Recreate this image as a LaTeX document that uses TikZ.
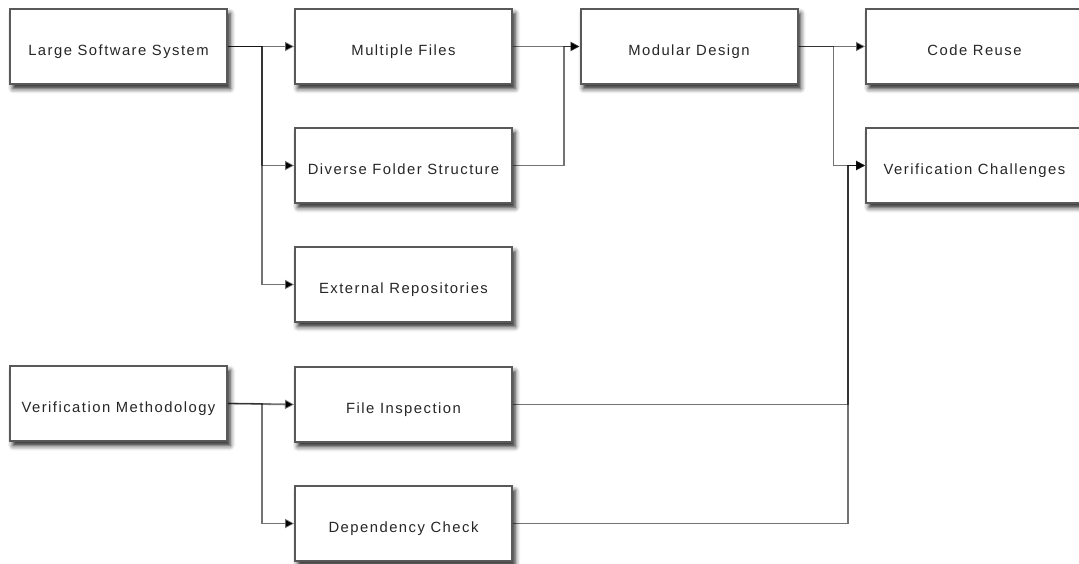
\documentclass[tikz,border=0pt]{standalone}
\usepackage{fontspec}
\newfontfamily\boxfont[LetterSpace=10]{Liberation Sans}
\usetikzlibrary{arrows.meta,shadows.blur}
\tikzset{
  box/.style={draw=black!65, line width=2pt, fill=white, minimum width=217pt, minimum height=75pt,
    inner sep=0pt, text height=18pt, text depth=0pt, font=\boxfont\fontsize{14.8pt}{17pt}\selectfont, text=black!85,
    blur shadow={shadow xshift=3pt, shadow yshift=-4.5pt, shadow blur radius=5pt, shadow opacity=90}},
  conn/.style={draw=black, draw opacity=0.55, line width=1.8pt},
  arr/.style={conn, -{Triangle[length=9pt,width=9pt]}},
}
\begin{document}
\begin{tikzpicture}[x=1pt,y=-1pt]
\useasboundingbox (0,0) rectangle (1079,564);
\node[box] (lss) at (118.5,46.5) {Large Software System};
\node[box] (mf)  at (403.5,46.5) {Multiple Files};
\node[box] (md)  at (689,46.5) {Modular Design};
\node[box] (cr)  at (974.5,46.5) {Code Reuse};
\node[box] (dfs) at (403.5,165.5) {Diverse Folder Structure};
\node[box] (vc)  at (974.5,165.5) {Verification Challenges};
\node[box] (er)  at (403.5,284.5) {External Repositories};
\node[box] (vm)  at (118.5,403.5) {Verification Methodology};
\node[box] (fi)  at (403.5,404.5) {File Inspection};
\node[box] (dc)  at (403.5,523.5) {Dependency Check};
\draw[arr] (lss.east) -- (mf.west);
\draw[arr] (lss.east) -- ++(34,0) |- (dfs.west);
\draw[arr] (lss.east) -- ++(34,0) |- (er.west);
\draw[arr] (mf.east) -- (md.west);
\draw[arr] (dfs.east) -- ++(51,0) |- (md.west);
\draw[arr] (md.east) -- (cr.west);
\draw[arr] (md.east) -- ++(35,0) |- (vc.west);
\draw[arr] (fi.east) -| ([xshift=-17pt]vc.west) -- (vc.west);
\draw[arr] (dc.east) -| ([xshift=-17pt]vc.west) -- (vc.west);
\draw[arr] (vm.east) -- (fi.west);
\draw[arr] (vm.east) -- ++(34,0) |- (dc.west);
\end{tikzpicture}
\end{document}
